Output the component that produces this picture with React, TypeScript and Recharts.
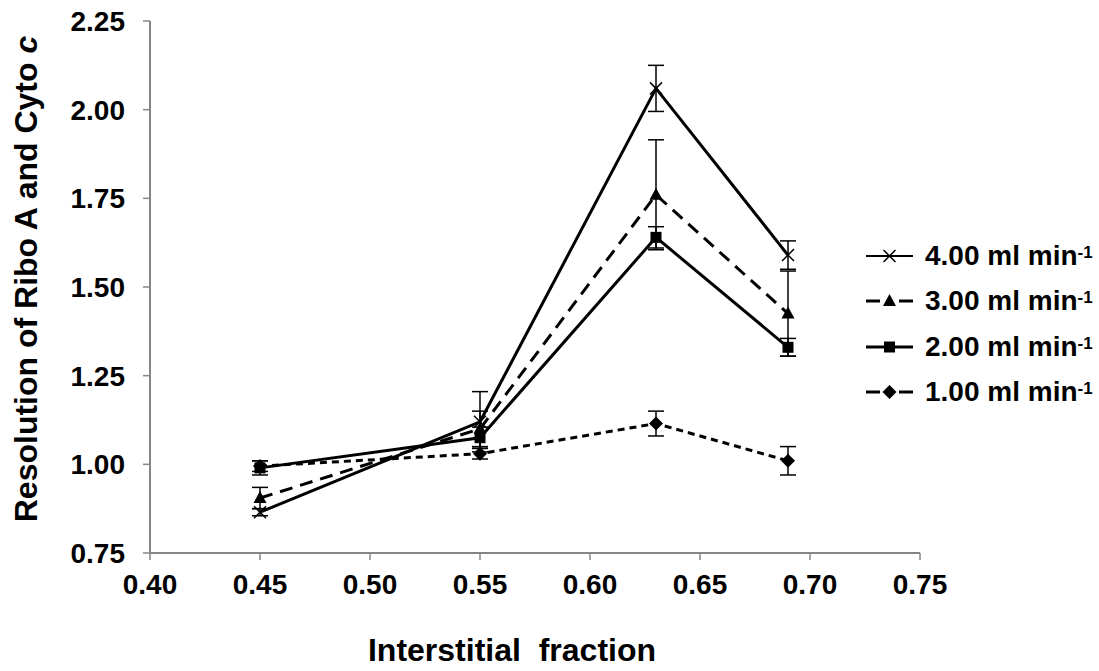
import React from 'react';
import { LineChart, Line, XAxis, YAxis, ErrorBar, Legend } from 'recharts';

const xValues = [0.45, 0.55, 0.63, 0.69];
const flow4 = [0.865, 1.12, 2.06, 1.59];
const err4 = [0.01, 0.085, 0.065, 0.04];
const flow3 = [0.905, 1.1, 1.76, 1.425];
const err3 = [0.03, 0.05, 0.155, 0.12];
const flow2 = [0.99, 1.075, 1.64, 1.33];
const err2 = [0.02, 0.03, 0.03, 0.025];
const flow1 = [0.995, 1.03, 1.115, 1.01];
const err1 = [0.015, 0.015, 0.035, 0.04];

const xTicks = [0.4, 0.45, 0.5, 0.55, 0.6, 0.65, 0.7, 0.75];
const yTicks = [0.75, 1.0, 1.25, 1.5, 1.75, 2.0, 2.25];
const seriesLabels = ['4.00 ml min', '3.00 ml min', '2.00 ml min', '1.00 ml min'];

const data = xValues.map((x, i) => ({
  x,
  s4: flow4[i], e4: err4[i],
  s3: flow3[i], e3: err3[i],
  s2: flow2[i], e2: err2[i],
  s1: flow1[i], e1: err1[i],
}));

const FONT = '"Liberation Sans", Arial, Helvetica, sans-serif';
const AXIS = '#868686';

type MarkerKind = 'cross' | 'triangle' | 'square' | 'diamond';

function marker(kind: MarkerKind, cx: number, cy: number, key?: any) {
  if (kind === 'cross') {
    const s = 6;
    return (
      <g key={key}>
        <line x1={cx - s} y1={cy - s} x2={cx + s} y2={cy + s} stroke="#000" strokeWidth={1.5} />
        <line x1={cx - s} y1={cy + s} x2={cx + s} y2={cy - s} stroke="#000" strokeWidth={1.5} />
      </g>
    );
  }
  if (kind === 'triangle') {
    return <polygon key={key} points={`${cx},${cy - 7} ${cx + 6.5},${cy + 5} ${cx - 6.5},${cy + 5}`} fill="#000" />;
  }
  if (kind === 'square') {
    return <rect key={key} x={cx - 5.5} y={cy - 5.5} width={11} height={11} fill="#000" />;
  }
  return <polygon key={key} points={`${cx},${cy - 7} ${cx + 7},${cy} ${cx},${cy + 7} ${cx - 7},${cy}`} fill="#000" />;
}

const makeDot = (kind: MarkerKind) => (props: any) => {
  const { cx, cy, index } = props;
  if (cx == null || cy == null) return <g key={`n${index}`} />;
  return marker(kind, cx, cy, `${kind}${index}`);
};

const legendItems: { kind: MarkerKind }[] = [
  { kind: 'cross' },
  { kind: 'triangle' },
  { kind: 'square' },
  { kind: 'diamond' },
];

const renderLegend = () => (
  <div style={{ fontFamily: FONT, fontWeight: 700 }}>
    {legendItems.map((it, i) => (
      <div key={i} style={{ display: 'flex', alignItems: 'center', height: 45.5 }}>
        <svg width={48} height={20} style={{ display: 'block' }}>
          {it.kind === 'triangle' || it.kind === 'diamond' ? (
            <>
              <line x1={0} y1={10} x2={14} y2={10} stroke="#000" strokeWidth={3} />
              <line x1={33} y1={10} x2={47} y2={10} stroke="#000" strokeWidth={3} />
            </>
          ) : (
            <line x1={0} y1={10} x2={47} y2={10} stroke="#000" strokeWidth={it.kind === 'cross' ? 2 : 3} />
          )}
          {marker(it.kind, 23.5, 10)}
        </svg>
        <span style={{ marginLeft: 11, fontSize: 28, color: '#000', whiteSpace: 'nowrap', lineHeight: '28px' }}>
          {seriesLabels[i]}
          <sup style={{ fontSize: 17, verticalAlign: 'top', position: 'relative', top: -3 }}>-1</sup>
        </span>
      </div>
    ))}
  </div>
);

const YTitle = (props: any) => {
  const vb = props.viewBox || { x: 0, y: 21, width: 150, height: 532 };
  const x = vb.x + 37;
  const y = vb.y + 258;
  return (
    <text x={0} y={0} transform={`translate(${x} ${y}) rotate(-90)`} textAnchor="middle"
      style={{ fontFamily: FONT, fontWeight: 700, fontSize: 32, fill: '#000' }}>
      Resolution of Ribo A and Cyto <tspan fontStyle="italic">c</tspan>
    </text>
  );
};

const XTitle = (props: any) => {
  const vb = props.viewBox || { x: 150, y: 553, width: 770, height: 118 };
  return (
    <text x={vb.x + 362} y={vb.y + 108} textAnchor="middle"
      style={{ fontFamily: FONT, fontWeight: 700, fontSize: 32, fill: '#000', whiteSpace: 'pre' }}>
      {'Interstitial  fraction'}
    </text>
  );
};

export default function App() {
  const tickStyle = { fill: '#000', fontSize: 28, fontWeight: 700, fontFamily: FONT };
  return (
    <div style={{ position: 'absolute', left: 0, top: 0, width: 1099, height: 671, background: '#fff' }}>
      <LineChart width={1099} height={671} data={data} margin={{ top: 21, right: 179, bottom: 0, left: 0 }}>
        <XAxis
          type="number"
          dataKey="x"
          domain={[0.4, 0.75]}
          ticks={xTicks}
          tickFormatter={(v: number) => v.toFixed(2)}
          tick={tickStyle}
          tickSize={7}
          tickMargin={14}
          height={118}
          axisLine={{ stroke: AXIS, strokeWidth: 2 }}
          tickLine={{ stroke: AXIS, strokeWidth: 1.5 }}
          interval={0}
          allowDataOverflow
          label={{ content: XTitle }}
        />
        <YAxis
          type="number"
          domain={[0.75, 2.25]}
          ticks={yTicks}
          tickFormatter={(v: number) => v.toFixed(2)}
          tick={tickStyle}
          tickSize={7}
          tickMargin={18}
          width={150}
          axisLine={{ stroke: AXIS, strokeWidth: 2 }}
          tickLine={{ stroke: AXIS, strokeWidth: 1.5 }}
          interval={0}
          allowDataOverflow
          label={{ content: YTitle }}
        />
        <Legend
          layout="vertical"
          align="center"
          verticalAlign="middle"
          content={renderLegend}
          wrapperStyle={{ position: 'absolute', left: 866, top: 233, width: 233 }}
        />
        <Line dataKey="s1" stroke="#000" strokeWidth={3} strokeDasharray="7 5" dot={makeDot('diamond')} isAnimationActive={false} legendType="none">
          <ErrorBar dataKey="e1" width={8} strokeWidth={1.5} stroke="#000" direction="y" />
        </Line>
        <Line dataKey="s2" stroke="#000" strokeWidth={3} dot={makeDot('square')} isAnimationActive={false} legendType="none">
          <ErrorBar dataKey="e2" width={8} strokeWidth={1.5} stroke="#000" direction="y" />
        </Line>
        <Line dataKey="s3" stroke="#000" strokeWidth={3} strokeDasharray="13 8" dot={makeDot('triangle')} isAnimationActive={false} legendType="none">
          <ErrorBar dataKey="e3" width={8} strokeWidth={1.5} stroke="#000" direction="y" />
        </Line>
        <Line dataKey="s4" stroke="#000" strokeWidth={3} dot={makeDot('cross')} isAnimationActive={false} legendType="none">
          <ErrorBar dataKey="e4" width={8} strokeWidth={1.5} stroke="#000" direction="y" />
        </Line>
      </LineChart>
    </div>
  );
}
